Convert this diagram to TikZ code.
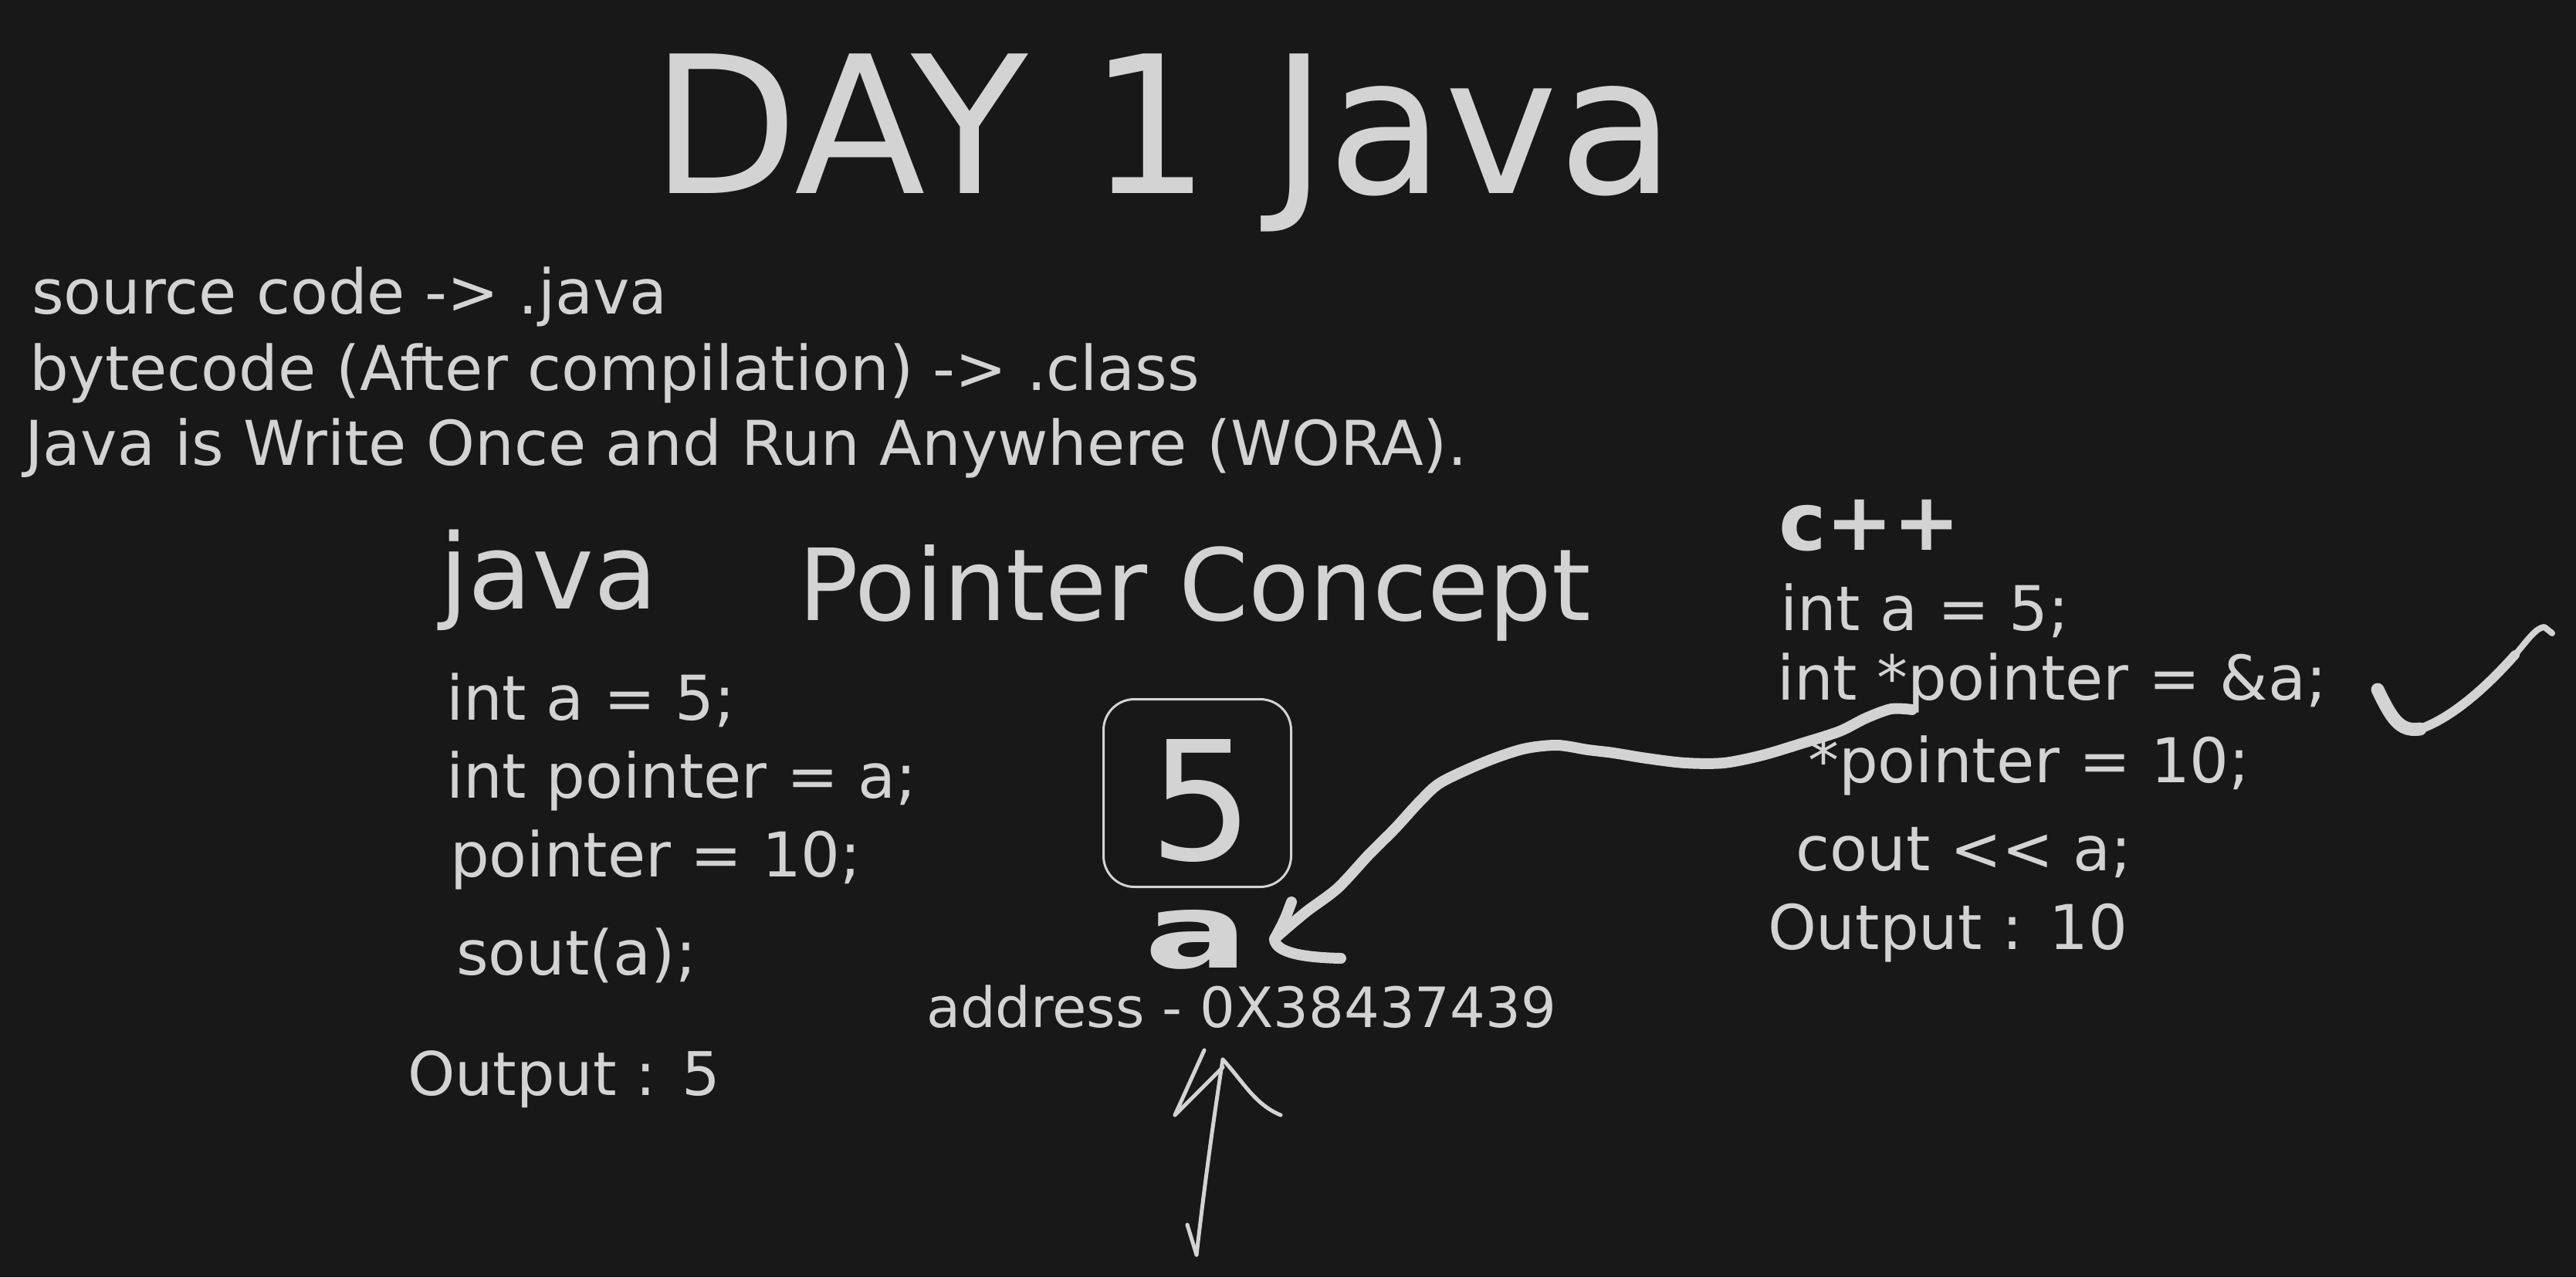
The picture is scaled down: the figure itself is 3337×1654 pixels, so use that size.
\documentclass[tikz,border=0pt]{standalone}
\usepackage{fontspec}
\setmainfont{DejaVu Sans}
\definecolor{bgc}{RGB}{24,24,24}
\definecolor{ink}{RGB}{211,211,211}
\tikzset{
  txt/.style={text=ink, inner sep=0pt, outer sep=0pt, anchor=base west},
  fs/.style={font=\fontsize{#1}{#1}\selectfont},
  stroke/.style={draw=ink, line cap=round, line join=round},
}
\begin{document}
\begin{tikzpicture}[x=1pt,y=-1pt]
\fill[bgc] (0,0) rectangle (3337,1654);
\useasboundingbox (0,0) rectangle (3337,1654);

% title
\node[txt,fs=248] (title) at (843,250) {DAY 1 Java};

% intro lines
\node[txt,fs=80] (l1) at (41,406) {source code -> .java};
\node[txt,fs=80] (l2) at (38,505) {bytecode (After compilation) -> .class};
\node[txt,fs=80] (l3) at (32,602) {Java is Write Once and Run Anywhere (WORA).};

% headings
\node[txt,fs=135] (javah) at (569,788) {java};
\node[txt,fs=129] (ptrc) at (1034,803) {Pointer Concept};

% java code
\node[txt,fs=80] (j1) at (578,932) {int a = 5;};
\node[txt,fs=80] (j2) at (578,1033) {int pointer = a;};
\node[txt,fs=80] (j3) at (583,1135) {pointer = 10;};
\node[txt,fs=80] (j4) at (591,1262) {sout(a);};
\node[txt,fs=78] (j5) at (528,1418) {Output : 5};

% c++ code
\node[txt,font=\fontsize{104}{104}\selectfont\bfseries] (cpph) at (2304,712) {c++};
\node[txt,fs=80] (c1) at (2306,816) {int a = 5;};
\node[txt,fs=80] (c2) at (2302,906) {int *pointer = \&a;};
\node[txt,fs=80] (c3) at (2342,1013) {*pointer = 10;};
\node[txt,fs=80] (c4) at (2326,1127) {cout <\kern0pt< a;};
\node[txt,fs=80] (c5) at (2290,1229) {Output : 10};

% memory box
\node[draw=ink, line width=3pt, rounded corners=40pt, minimum width=243pt,
      minimum height=243pt, inner sep=0pt] (box) at (1551,1027) {};
\node[text=ink, inner sep=0pt, anchor=base, fs=214] (five) at (1557,1113) {5};
\node[text=ink, inner sep=0pt, anchor=base, font=\fontsize{134}{134}\selectfont\bfseries]
      (varA) at (1550,1253) {\scalebox{1.5}[1]{a}};
\node[txt,fs=72] (addr) at (1200,1330) {address - 0X38437439};

% curved arrow from *pointer to a
\coordinate (ptrS) at (2477,919);
\coordinate (aTip) at (1651,1216);
\draw[stroke, line width=14pt] plot[smooth, tension=0.5] coordinates
  {(ptrS) (2450,918) (2417,930) (2383,947) (2333,963) (2283,978) (2233,988)
   (2183,988) (2133,982) (2090,975) (2057,971) (2017,965) (1973,970)
   (1923,987) (1867,1013) (1840,1037) (1807,1073) (1773,1107) (1733,1150)
   (1693,1180) (1662,1206) (aTip)};
\draw[stroke, line width=14pt] (1673,1168) .. controls (1664,1192) .. (aTip)
  .. controls (1652,1234) and (1690,1240) .. (1737,1241);

% up arrow to address
\coordinate (upEnd) at (1550,1625);
\coordinate (upTip) at (1584,1372);
\draw[stroke, line width=5pt] (upEnd) .. controls (1562,1520) and (1575,1430) .. (upTip);
\draw[stroke, line width=5pt] (1560,1360) -- (1522,1444) -- (1584,1382);
\draw[stroke, line width=5pt] (upTip) .. controls (1610,1400) and (1625,1430) .. (1659,1444);
\draw[stroke, line width=5pt] (1538,1586) -- (upEnd);

% check mark
\draw[stroke, line width=17pt] (3080,893) .. controls (3098,930) and (3108,948) .. (3135,944);
\draw[stroke, line width=12pt] (3135,944) .. controls (3180,928) and (3225,885) .. (3258,848);
\draw[stroke, line width=8pt] (3258,848) .. controls (3275,828) and (3285,813) .. (3296,812) -- (3306,820);
\end{tikzpicture}
\end{document}
